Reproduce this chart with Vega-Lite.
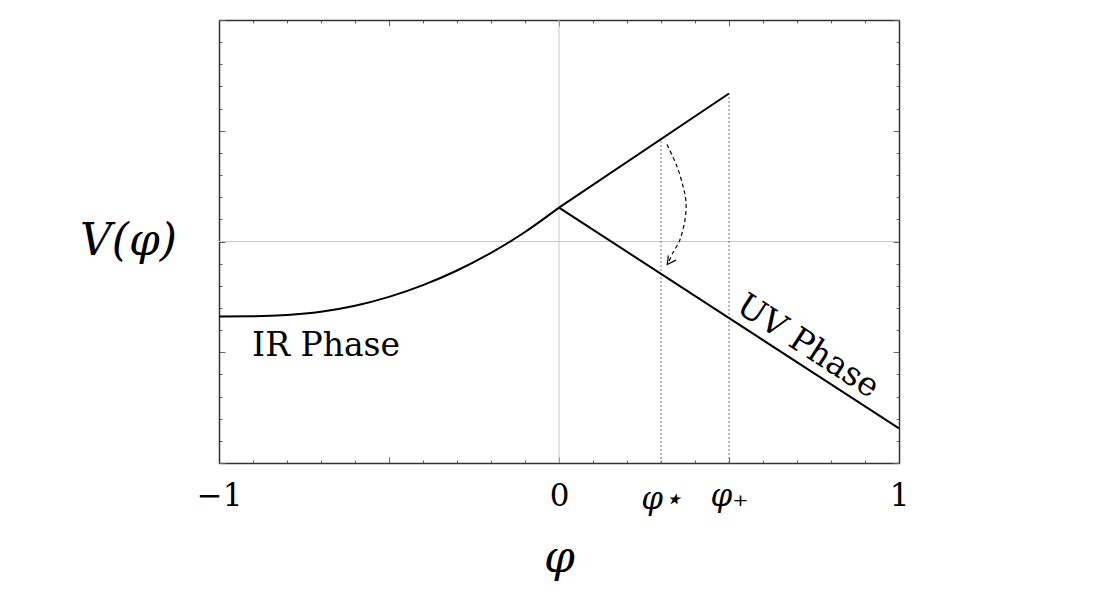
{
  "$schema": "https://vega.github.io/schema/vega-lite/v6.json",
  "width": 680,
  "height": 443,
  "autosize": "none",
  "padding": {"left": 219, "top": 20, "right": 217, "bottom": 133},
  "background": "white",
  "config": {"view": {"stroke": null}},
  "datasets": {
    "ir": [
      {"phi": -1, "V": -0.339},
      {"phi": -0.9, "V": -0.338},
      {"phi": -0.8, "V": -0.332},
      {"phi": -0.7, "V": -0.317},
      {"phi": -0.6, "V": -0.29},
      {"phi": -0.5, "V": -0.25},
      {"phi": -0.4, "V": -0.197},
      {"phi": -0.3, "V": -0.131},
      {"phi": -0.2, "V": -0.051},
      {"phi": -0.1, "V": 0.043},
      {"phi": 0, "V": 0.153}
    ],
    "lines": [
      {"seg": "up", "phi": 0, "V": 0.153},
      {"seg": "up", "phi": 0.5, "V": 0.668},
      {"seg": "down", "phi": 0, "V": 0.153},
      {"seg": "down", "phi": 1, "V": -0.844}
    ],
    "origin": [{"phi": 0, "V": 0}],
    "marks": [
      {"phi": 0.3, "V0": -1, "V1": 0.462},
      {"phi": 0.5, "V0": -1, "V1": 0.668}
    ],
    "arrow": [
      {"ord": 1, "phi": 0.3176, "V": 0.438},
      {"ord": 2, "phi": 0.347, "V": 0.339},
      {"ord": 3, "phi": 0.365, "V": 0.248},
      {"ord": 4, "phi": 0.3735, "V": 0.176},
      {"ord": 5, "phi": 0.3706, "V": 0.099},
      {"ord": 6, "phi": 0.3559, "V": 0.009},
      {"ord": 7, "phi": 0.3353, "V": -0.05},
      {"ord": 8, "phi": 0.3206, "V": -0.099}
    ],
    "head": [
      {"ord": 1, "phi": 0.3215, "V": -0.063},
      {"ord": 2, "phi": 0.3185, "V": -0.104},
      {"ord": 3, "phi": 0.3441, "V": -0.084}
    ],
    "ir_label": [{"phi": -0.685, "V": -0.47, "text": "IR Phase"}],
    "uv_label": [{"phi": 0.732, "V": -0.474, "text": "UV Phase"}]
  },
  "encoding": {
    "x": {"field": "phi", "type": "quantitative", "scale": {"domain": [-1, 1], "nice": false, "zero": false}, "axis": null},
    "y": {"field": "V", "type": "quantitative", "scale": {"domain": [-1, 1], "nice": false, "zero": false}, "axis": null}
  },
  "layer": [
    {
      "data": {"name": "origin"},
      "mark": {"type": "rule", "color": "#c8c8c8", "strokeWidth": 1},
      "encoding": {"y": null}
    },
    {
      "data": {"name": "origin"},
      "mark": {"type": "rule", "color": "#c8c8c8", "strokeWidth": 1},
      "encoding": {"x": null}
    },
    {
      "data": {"name": "marks"},
      "mark": {"type": "rule", "color": "#777777", "strokeWidth": 1, "strokeDash": [2, 2]},
      "encoding": {
        "y": {"field": "V0", "type": "quantitative", "scale": {"domain": [-1, 1], "nice": false, "zero": false}, "axis": null},
        "y2": {"field": "V1"}
      }
    },
    {
      "data": {"name": "ir"},
      "mark": {"type": "line", "color": "black", "strokeWidth": 2, "interpolate": "monotone"},
      "encoding": {
        "x": {
          "field": "phi", "type": "quantitative",
          "scale": {"domain": [-1, 1], "nice": false, "zero": false},
          "axis": {
            "orient": "bottom",
            "values": [-1, -0.9, -0.8, -0.7, -0.6, -0.5, -0.4, -0.3, -0.2, -0.1, 0, 0.1, 0.2, 0.3, 0.4, 0.5, 0.6, 0.7, 0.8, 0.9, 1],
            "labelExpr": "datum.value == -1 ? '−1' : datum.value == 0 ? '0' : abs(datum.value - 0.3) < 0.001 ? 'φ⋆' : abs(datum.value - 0.5) < 0.001 ? 'φ₊' : datum.value == 1 ? '1' : ''",
            "grid": false,
            "domainColor": "#333333", "domainWidth": 1.5,
            "tickColor": "#666666", "tickWidth": 1,
            "tickSize": {"condition": {"test": "abs(datum.value * 2 - round(datum.value * 2)) < 0.001", "value": -6}, "value": -3},
            "labelFont": "DejaVu Serif", "labelFontSize": 31, "labelColor": "black",
            "labelFontStyle": {"condition": {"test": "datum.value > 0.2 && datum.value < 0.6", "value": "italic"}, "value": "normal"},
            "labelPadding": 24, "labelFlush": false, "labelOverlap": false,
            "title": "φ", "titleFont": "DejaVu Serif", "titleFontStyle": "italic", "titleFontWeight": "normal",
            "titleFontSize": 44, "titleColor": "black", "titlePadding": 22
          }
        },
        "y": {
          "field": "V", "type": "quantitative",
          "scale": {"domain": [-1, 1], "nice": false, "zero": false},
          "axis": {
            "orient": "left",
            "values": [-1, -0.9, -0.8, -0.7, -0.6, -0.5, -0.4, -0.3, -0.2, -0.1, 0, 0.1, 0.2, 0.3, 0.4, 0.5, 0.6, 0.7, 0.8, 0.9, 1],
            "labels": false,
            "grid": false,
            "domainColor": "#333333", "domainWidth": 1.5,
            "tickColor": "#666666", "tickWidth": 1,
            "tickSize": {"condition": {"test": "abs(datum.value * 2 - round(datum.value * 2)) < 0.001", "value": -6}, "value": -3},
            "title": "V(φ)", "titleFont": "DejaVu Serif", "titleFontStyle": "italic", "titleFontWeight": "normal",
            "titleFontSize": 44, "titleColor": "black", "titleAngle": 0, "titleAlign": "right", "titleBaseline": "middle",
            "titlePadding": 42
          }
        }
      }
    },
    {
      "data": {"name": "lines"},
      "mark": {"type": "line", "color": "black", "strokeWidth": 2},
      "encoding": {
        "detail": {"field": "seg"},
        "x": {
          "field": "phi", "type": "quantitative",
          "scale": {"domain": [-1, 1], "nice": false, "zero": false},
          "axis": {
            "orient": "top",
            "values": [-1, -0.9, -0.8, -0.7, -0.6, -0.5, -0.4, -0.3, -0.2, -0.1, 0, 0.1, 0.2, 0.3, 0.4, 0.5, 0.6, 0.7, 0.8, 0.9, 1],
            "labels": false, "grid": false, "title": null,
            "domainColor": "#333333", "domainWidth": 1.5,
            "tickColor": "#666666", "tickWidth": 1,
            "tickSize": {"condition": {"test": "abs(datum.value * 2 - round(datum.value * 2)) < 0.001", "value": -6}, "value": -3}
          }
        },
        "y": {
          "field": "V", "type": "quantitative",
          "scale": {"domain": [-1, 1], "nice": false, "zero": false},
          "axis": {
            "orient": "right",
            "values": [-1, -0.9, -0.8, -0.7, -0.6, -0.5, -0.4, -0.3, -0.2, -0.1, 0, 0.1, 0.2, 0.3, 0.4, 0.5, 0.6, 0.7, 0.8, 0.9, 1],
            "labels": false, "grid": false, "title": null,
            "domainColor": "#333333", "domainWidth": 1.5,
            "tickColor": "#666666", "tickWidth": 1,
            "tickSize": {"condition": {"test": "abs(datum.value * 2 - round(datum.value * 2)) < 0.001", "value": -6}, "value": -3}
          }
        }
      }
    },
    {
      "data": {"name": "arrow"},
      "mark": {"type": "line", "color": "black", "strokeWidth": 1.2, "strokeDash": [4, 3], "interpolate": "cardinal"},
      "encoding": {"order": {"field": "ord", "type": "quantitative"}}
    },
    {
      "data": {"name": "head"},
      "mark": {"type": "line", "color": "black", "strokeWidth": 1.2},
      "encoding": {"order": {"field": "ord", "type": "quantitative"}}
    },
    {
      "data": {"name": "ir_label"},
      "mark": {"type": "text", "font": "DejaVu Serif", "fontSize": 33, "color": "black", "align": "center", "baseline": "middle"},
      "encoding": {"text": {"field": "text"}}
    },
    {
      "data": {"name": "uv_label"},
      "mark": {"type": "text", "font": "DejaVu Serif", "fontSize": 33, "color": "black", "align": "center", "baseline": "middle", "angle": 33},
      "encoding": {"text": {"field": "text"}}
    }
  ],
  "resolve": {"axis": {"x": "independent", "y": "independent"}}
}
